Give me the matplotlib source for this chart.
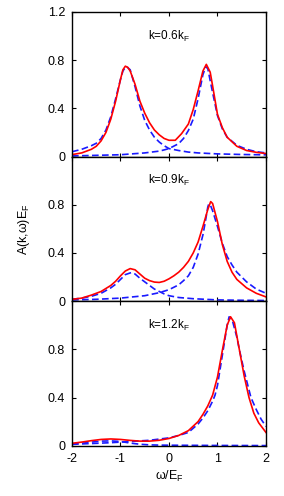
import matplotlib
matplotlib.use('Agg')
from matplotlib import pyplot as plt

plt.rcParams['font.family'] = ['Liberation Sans', 'DejaVu Sans']
plt.rcParams['mathtext.fontset'] = 'custom'
plt.rcParams['mathtext.rm'] = 'Liberation Sans'

x_ticks = [-2, -1, 0, 1, 2]
labels = ['k=0.6k$_\\mathregular{F}$', 'k=0.9k$_\\mathregular{F}$', 'k=1.2k$_\\mathregular{F}$']

# panel 1, k = 0.6 kF
w1_red = [-2, -1.8, -1.6, -1.5, -1.4, -1.3, -1.2, -1.1, -1.0, -0.95, -0.9, -0.85, -0.8, -0.7, -0.6, -0.5,
          -0.4, -0.3, -0.2, -0.1, 0.0, 0.13, 0.26, 0.4, 0.5, 0.6, 0.7, 0.77, 0.85, 0.9, 1.0, 1.1, 1.2,
          1.4, 1.6, 1.8, 2.0]
a1_red = [0.016, 0.03, 0.06, 0.085, 0.13, 0.2, 0.31, 0.46, 0.64, 0.72, 0.75, 0.74, 0.71, 0.6, 0.46, 0.36,
          0.28, 0.22, 0.18, 0.15, 0.135, 0.135, 0.19, 0.27, 0.39, 0.545, 0.71, 0.765, 0.7, 0.586, 0.35,
          0.24, 0.16, 0.085, 0.05, 0.035, 0.025]
w1_b1 = [-2, -1.8, -1.6, -1.5, -1.4, -1.3, -1.2, -1.1, -1.0, -0.95, -0.9, -0.87, -0.8, -0.7, -0.6, -0.5,
         -0.4, -0.3, -0.2, -0.1, 0.0, 0.2, 0.4, 0.6, 1.0, 1.5, 2.0]
a1_b1 = [0.04, 0.06, 0.09, 0.11, 0.15, 0.22, 0.33, 0.48, 0.64, 0.71, 0.74, 0.745, 0.72, 0.58, 0.42, 0.30,
         0.22, 0.16, 0.12, 0.09, 0.066, 0.05, 0.037, 0.03, 0.022, 0.017, 0.014]
w1_b2 = [-2, -1.5, -1.0, -0.5, -0.2, -0.1, 0.0, 0.2, 0.3, 0.4, 0.5, 0.6, 0.7, 0.76, 0.8, 0.9, 1.0, 1.1,
         1.2, 1.4, 1.6, 1.8, 2.0]
a1_b2 = [0.005, 0.01, 0.015, 0.03, 0.045, 0.055, 0.066, 0.107, 0.15, 0.216, 0.31, 0.48, 0.68, 0.745,
         0.73, 0.53, 0.34, 0.23, 0.16, 0.093, 0.06, 0.04, 0.03]

# panel 2, k = 0.9 kF
w2_red = [-2, -1.8, -1.6, -1.4, -1.2, -1.1, -1.0, -0.9, -0.8, -0.7, -0.6, -0.5, -0.4, -0.3, -0.2, -0.1,
          0.0, 0.1, 0.2, 0.3, 0.4, 0.5, 0.6, 0.7, 0.8, 0.86, 0.9, 1.0, 1.1, 1.2, 1.3, 1.4, 1.6, 1.8, 2.0]
a2_red = [0.015, 0.025, 0.05, 0.08, 0.13, 0.165, 0.21, 0.25, 0.27, 0.26, 0.225, 0.19, 0.17, 0.158, 0.155,
          0.165, 0.185, 0.21, 0.24, 0.28, 0.33, 0.40, 0.49, 0.62, 0.76, 0.826, 0.81, 0.66, 0.47, 0.33,
          0.24, 0.18, 0.11, 0.065, 0.035]
w2_b1 = [-2, -1.8, -1.6, -1.4, -1.2, -1.1, -1.0, -0.9, -0.8, -0.77, -0.7, -0.6, -0.5, -0.4, -0.3, -0.2,
         -0.1, 0.0, 0.2, 0.5, 1.0, 1.5, 2.0]
a2_b1 = [0.015, 0.025, 0.04, 0.065, 0.11, 0.14, 0.18, 0.22, 0.234, 0.236, 0.225, 0.19, 0.16, 0.13, 0.1,
         0.08, 0.06, 0.045, 0.03, 0.02, 0.01, 0.007, 0.005]
w2_b2 = [-2, -1.5, -1.0, -0.5, -0.2, 0.0, 0.2, 0.3, 0.4, 0.5, 0.6, 0.7, 0.75, 0.8, 0.82, 0.85, 0.9, 1.0,
         1.1, 1.2, 1.3, 1.4, 1.6, 1.8, 2.0]
a2_b2 = [0.01, 0.015, 0.025, 0.045, 0.07, 0.095, 0.135, 0.17, 0.21, 0.28, 0.39, 0.55, 0.66, 0.78, 0.806,
         0.8, 0.75, 0.62, 0.48, 0.37, 0.3, 0.24, 0.16, 0.1, 0.065]

# panel 3, k = 1.2 kF
w3_red = [-2, -1.8, -1.6, -1.4, -1.2, -1.0, -0.8, -0.6, -0.4, -0.2, 0.0, 0.2, 0.4, 0.6, 0.7, 0.8, 0.9,
          1.0, 1.1, 1.2, 1.27, 1.35, 1.45, 1.55, 1.65, 1.75, 1.85, 2.0]
a3_red = [0.02, 0.03, 0.042, 0.052, 0.056, 0.052, 0.044, 0.038, 0.038, 0.045, 0.06, 0.085, 0.125, 0.2,
          0.26, 0.33, 0.42, 0.57, 0.79, 1.0, 1.07, 1.02, 0.8, 0.58, 0.4, 0.27, 0.19, 0.11]
w3_b1 = [-2, -1.8, -1.6, -1.4, -1.2, -1.0, -0.8, -0.6, -0.4, -0.2, 0.0, 0.5, 1.0, 2.0]
a3_b1 = [0.012, 0.02, 0.03, 0.038, 0.04, 0.035, 0.022, 0.012, 0.007, 0.005, 0.004, 0.003, 0.002, 0.001]
w3_b2 = [-2, -1.6, -1.2, -1.0, -0.6, -0.4, -0.2, 0.0, 0.2, 0.4, 0.6, 0.7, 0.8, 0.9, 0.95, 1.0, 1.1, 1.2,
         1.24, 1.3, 1.4, 1.45, 1.55, 1.69, 1.8, 1.9, 2.0]
a3_b2 = [0.012, 0.018, 0.025, 0.03, 0.04, 0.045, 0.055, 0.065, 0.085, 0.11, 0.18, 0.23, 0.29, 0.37,
         0.42, 0.5, 0.75, 1.0, 1.07, 1.05, 0.9, 0.8, 0.62, 0.4, 0.3, 0.22, 0.16]

panels = [
    (w1_red, a1_red, [(w1_b1, a1_b1), (w1_b2, a1_b2)]),
    (w2_red, a2_red, [(w2_b1, a2_b1), (w2_b2, a2_b2)]),
    (w3_red, a3_red, [(w3_b1, a3_b1), (w3_b2, a3_b2)]),
]

fig = plt.figure(figsize=(2.84, 4.96), dpi=100)
left, width = 0.2535, 0.683
bottom, h = 0.1014, 0.2915

for i, (wr, ar, blues) in enumerate(panels):
    ax = fig.add_axes([left, bottom + (2 - i) * h, width, h])
    for wb, ab in blues:
        ax.plot(wb, ab, color='#1a1aff', lw=1.2, ls=(0, (4, 2)))
    ax.plot(wr, ar, color='#ff0000', lw=1.2)
    ax.set_xlim(-2, 2)
    ax.set_ylim(0, 1.2)
    ax.set_xticks(x_ticks)
    ax.set_yticks([0, 0.4, 0.8, 1.2])
    if i == 0:
        ax.set_yticklabels(['0', '0.4', '0.8', '1.2'])
    else:
        ax.set_yticklabels(['0', '0.4', '0.8', ''])
    if i < 2:
        ax.set_xticklabels([])
    else:
        ax.set_xticklabels([str(t) for t in x_ticks])
        ax.set_xlabel('ω/E$_\\mathregular{F}$', fontsize=9, labelpad=3)
    ax.tick_params(direction='in', top=True, right=True, length=3, width=0.8, labelsize=9, pad=5)
    for s in ax.spines.values():
        s.set_linewidth(1.0)
    ax.text(0.0, 1.0, labels[i], ha='center', va='center', fontsize=8.5)
    if i == 1:
        ax.set_ylabel('A(k,ω)E$_\\mathregular{F}$', fontsize=9, labelpad=11)

plt.savefig('out.png', dpi=100)
